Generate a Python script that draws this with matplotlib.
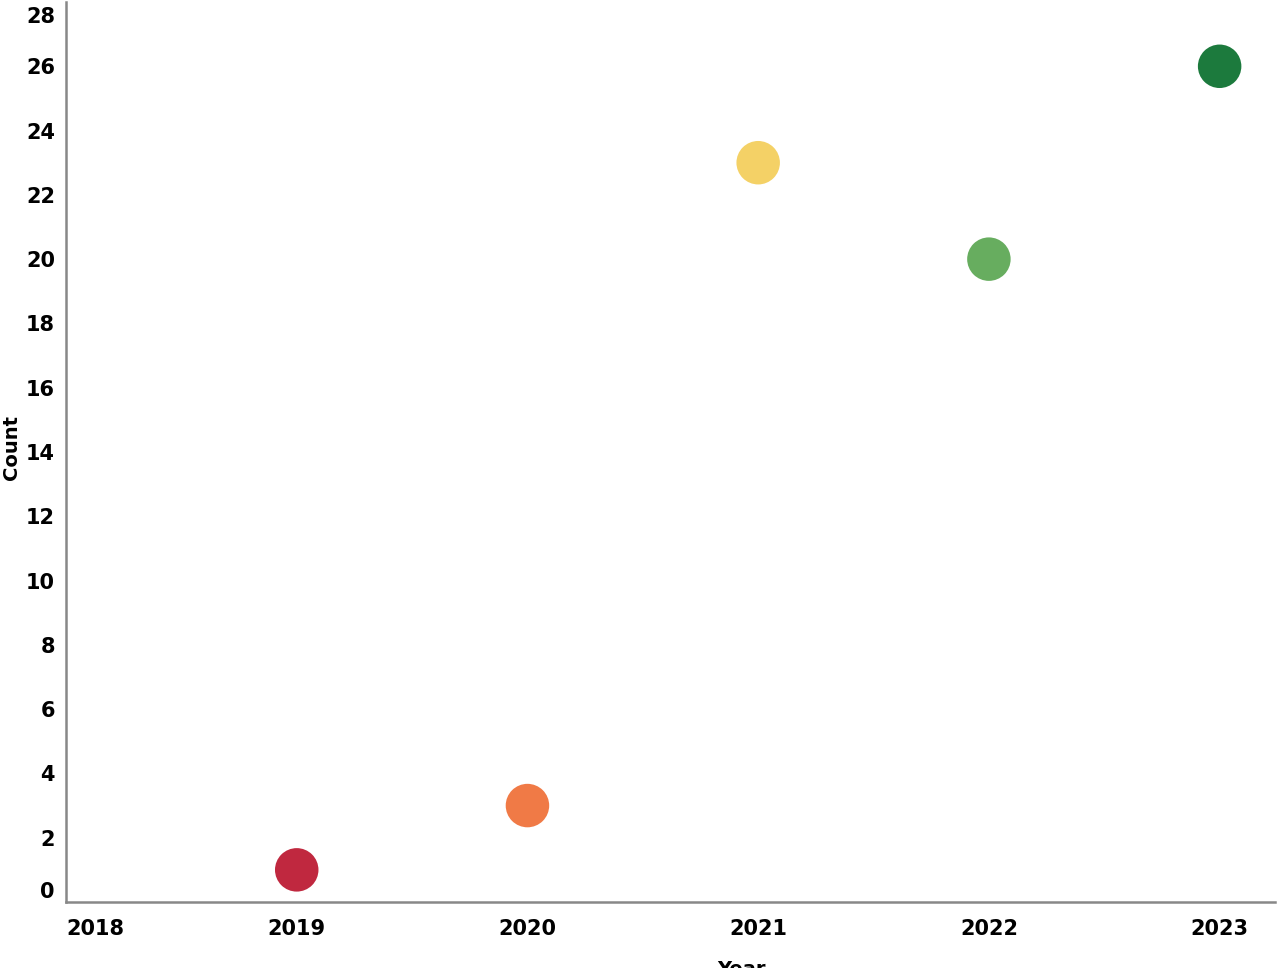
import matplotlib.pyplot as plt
from matplotlib.transforms import ScaledTranslation

years = [2019, 2020, 2021, 2022, 2023]
counts = [1, 3, 23, 20, 26]
dot_colors = ["#c0283f", "#f07a46", "#f4d166", "#67ad5f", "#1c7a3d"]
x_ticks = [2018, 2019, 2020, 2021, 2022, 2023]
y_ticks = list(range(0, 29, 2))

fig = plt.figure(figsize=(12.8, 9.68), dpi=100)
ax = fig.add_axes([66 / 1280, 66 / 968, (1275 - 66) / 1280, (902 - 2) / 968])

ax.scatter(years, counts, s=980, c=dot_colors, linewidths=0, zorder=3)

ax.set_xlim(2018, 2023.24)
ax.set_ylim(0, 28)
ax.set_xticks(x_ticks)
ax.set_yticks(y_ticks)
ax.set_xticklabels([str(t) for t in x_ticks], fontsize=15, fontweight="bold")
ax.set_yticklabels([str(t) for t in y_ticks], fontsize=15, fontweight="bold")
ax.tick_params(axis="x", length=0, pad=12)
ax.tick_params(axis="y", length=0, pad=8)

# flush the end labels inside the axis range
ax.get_xticklabels()[0].set_ha("left")
ax.get_yticklabels()[0].set_va("bottom")
top_lab = ax.get_yticklabels()[-1]
top_lab.set_va("top")
top_lab.set_transform(top_lab.get_transform()
                      + ScaledTranslation(0, -5 / 100, fig.dpi_scale_trans))

for side in ["top", "right"]:
    ax.spines[side].set_visible(False)
for side in ["left", "bottom"]:
    ax.spines[side].set_color("#888888")
    ax.spines[side].set_linewidth(1.8)

fig.text(12 / 1280, 1 - 448 / 968, "Count", rotation=90, fontsize=14,
         fontweight="bold", ha="center", va="center")
fig.text(741 / 1280, 1 - 960 / 968, "Year", fontsize=14,
         fontweight="bold", ha="center", va="top")

fig.savefig("out.png", dpi=100)
